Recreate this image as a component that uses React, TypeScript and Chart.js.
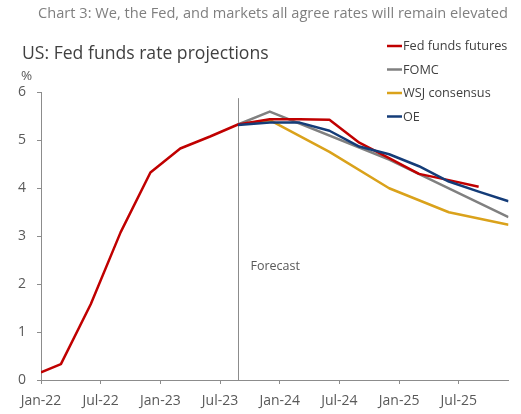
import React, { useEffect, useRef } from "react";
import { Chart, registerables } from "chart.js";

Chart.register(...registerables);

const FONT = '"Open Sans", "Noto Sans", sans-serif';

const chartTitle = "Chart 3: We, the Fed, and markets all agree rates will remain elevated";
const chartSubtitle = "US: Fed funds rate projections";
const yUnit = "%";
const forecastLabel = "Forecast";

const axisStart = "2022-01-01";
const axisEnd = "2025-12-01";
const xTickDates = ["2022-01-01", "2022-07-01", "2023-01-01", "2023-07-01", "2024-01-01", "2024-07-01", "2025-01-01", "2025-07-01"];
const xTickLabels = ["Jan-22", "Jul-22", "Jan-23", "Jul-23", "Jan-24", "Jul-24", "Jan-25", "Jul-25"];
const yTickValues = [0, 1, 2, 3, 4, 5, 6];

const forecastStart = "2023-08-25";

const historyDates = ["2022-01-01", "2022-03-01", "2022-06-01", "2022-09-01", "2022-12-01", "2023-03-01", "2023-06-01"];
const historyValues = [0.16, 0.33, 1.58, 3.08, 4.33, 4.83, 5.08];

const futuresDates = [forecastStart, "2023-12-01", "2024-03-01", "2024-06-01", "2024-09-01", "2024-12-01", "2025-03-01", "2025-06-01", "2025-09-01"];
const futuresValues = [5.33, 5.44, 5.44, 5.43, 4.95, 4.63, 4.3, 4.17, 4.03];

const fomcDates = [forecastStart, "2023-12-01", "2024-12-01", "2025-12-01"];
const fomcValues = [5.33, 5.6, 4.6, 3.4];

const wsjDates = [forecastStart, "2023-12-01", "2024-06-01", "2024-12-01", "2025-06-01", "2025-12-01"];
const wsjValues = [5.33, 5.42, 4.76, 4.0, 3.5, 3.24];

const oeDates = [forecastStart, "2023-12-01", "2024-03-01", "2024-06-01", "2024-09-01", "2024-12-01", "2025-03-01", "2025-06-01", "2025-09-01", "2025-12-01"];
const oeValues = [5.32, 5.37, 5.37, 5.2, 4.87, 4.71, 4.46, 4.14, 3.93, 3.73];

const seriesNames = ["Fed funds futures", "FOMC", "WSJ consensus", "OE"];
const seriesColors = ["#C00000", "#808080", "#DAA21B", "#143C78"];

function toMonth(d: string): number {
  const [y, m, day] = d.split("-").map(Number);
  const [y0, m0] = axisStart.split("-").map(Number);
  return (y - y0) * 12 + (m - m0) + (day - 1) / 30;
}

function pts(dates: string[], values: number[]) {
  return dates.map((d, i) => ({ x: toMonth(d), y: values[i] }));
}

const AXIS_COLOR = "#8C8C8C";
const TICK_COLOR = "#595959";

const overlayPlugin = {
  id: "overlay",
  beforeDatasetsDraw(chart: any) {
    const { ctx, chartArea, scales } = chart;
    const x = Math.round(scales.x.getPixelForValue(toMonth(forecastStart))) + 0.5;
    ctx.save();
    ctx.strokeStyle = AXIS_COLOR;
    ctx.lineWidth = 1;
    ctx.beginPath();
    ctx.moveTo(x, scales.y.getPixelForValue(5.88));
    ctx.lineTo(x, chartArea.bottom);
    ctx.stroke();
    ctx.fillStyle = TICK_COLOR;
    ctx.font = `12.5px ${FONT}`;
    ctx.textBaseline = "middle";
    ctx.textAlign = "left";
    ctx.fillText(forecastLabel, x + 12, scales.y.getPixelForValue(2.36));
    ctx.restore();
  },
  afterDraw(chart: any) {
    const { ctx } = chart;
    ctx.save();
    ctx.textBaseline = "alphabetic";
    ctx.fillStyle = "#7F7F7F";
    ctx.font = `14.6px ${FONT}`;
    ctx.textAlign = "center";
    ctx.fillText(chartTitle, 273, 18);
    ctx.fillStyle = "#404040";
    ctx.font = `17.6px ${FONT}`;
    ctx.textAlign = "left";
    ctx.fillText(chartSubtitle, 22, 59);
    ctx.fillStyle = TICK_COLOR;
    ctx.font = `13.5px ${FONT}`;
    ctx.fillText(yUnit, 21, 80);
    // legend
    const rows = [46, 69.5, 93, 116.5];
    ctx.font = `12.7px ${FONT}`;
    ctx.textBaseline = "middle";
    seriesNames.forEach((name, i) => {
      ctx.strokeStyle = seriesColors[i];
      ctx.lineWidth = 2.5;
      ctx.beginPath();
      ctx.moveTo(387, rows[i]);
      ctx.lineTo(402, rows[i]);
      ctx.stroke();
      ctx.fillStyle = "#404040";
      ctx.fillText(name, 403, rows[i] + 0.5);
    });
    ctx.restore();
  },
};

export default function App() {
  const ref = useRef<HTMLCanvasElement | null>(null);
  useEffect(() => {
    if (!ref.current) return;
    const tickMonths = xTickDates.map(toMonth);
    const line = (data: any, color: string, order: number, label: string) => ({
      label,
      data,
      borderColor: color,
      backgroundColor: color,
      borderWidth: 2.5,
      pointRadius: 0,
      tension: 0,
      fill: false,
      order,
      borderJoinStyle: "round" as const,
    });
    const chart = new Chart(ref.current, {
      type: "line",
      data: {
        datasets: [
          line(pts([...historyDates, ...futuresDates], [...historyValues, ...futuresValues]), seriesColors[0], 1, seriesNames[0]),
          line(pts(fomcDates, fomcValues), seriesColors[1], 2, seriesNames[1]),
          line(pts(wsjDates, wsjValues), seriesColors[2], 3, seriesNames[2]),
          line(pts(oeDates, oeValues), seriesColors[3], 0, seriesNames[3]),
        ],
      },
      options: {
        responsive: false,
        animation: false,
        events: [],
        layout: { padding: { top: 92.4, right: 12.5, bottom: 4, left: 0 } },
        plugins: { legend: { display: false }, tooltip: { enabled: false }, title: { display: false } },
        scales: {
          x: {
            type: "linear",
            min: toMonth(axisStart),
            max: toMonth(axisEnd),
            afterBuildTicks: (s: any) => {
              s.ticks = tickMonths.map((v) => ({ value: v }));
            },
            afterFit: (s: any) => {
              s.height = 30;
            },
            ticks: {
              autoSkip: false,
              maxRotation: 0,
              padding: 9,
              color: TICK_COLOR,
              font: { family: FONT, size: 14 },
              callback: (v: any) => {
                const i = tickMonths.indexOf(Number(v));
                return i >= 0 ? xTickLabels[i] : "";
              },
            },
            grid: { drawOnChartArea: false, drawTicks: true, tickLength: 4, color: AXIS_COLOR },
            border: { display: true, color: AXIS_COLOR, width: 1 },
          },
          y: {
            type: "linear",
            min: yTickValues[0],
            max: yTickValues[yTickValues.length - 1],
            afterBuildTicks: (s: any) => {
              s.ticks = yTickValues.map((v) => ({ value: v }));
            },
            afterFit: (s: any) => {
              s.width = 41;
            },
            ticks: {
              padding: 11,
              color: TICK_COLOR,
              font: { family: FONT, size: 14 },
              callback: (v: any) => String(v),
            },
            grid: { drawOnChartArea: false, drawTicks: true, tickLength: 4, color: AXIS_COLOR },
            border: { display: true, color: AXIS_COLOR, width: 1 },
          },
        },
      },
      plugins: [overlayPlugin],
    });
    return () => chart.destroy();
  }, []);
  return (
    <div style={{ position: "fixed", left: 0, top: 0, width: 521, height: 414, background: "#fff" }}>
      <canvas ref={ref} width={521} height={414} style={{ width: 521, height: 414, display: "block" }} />
    </div>
  );
}
